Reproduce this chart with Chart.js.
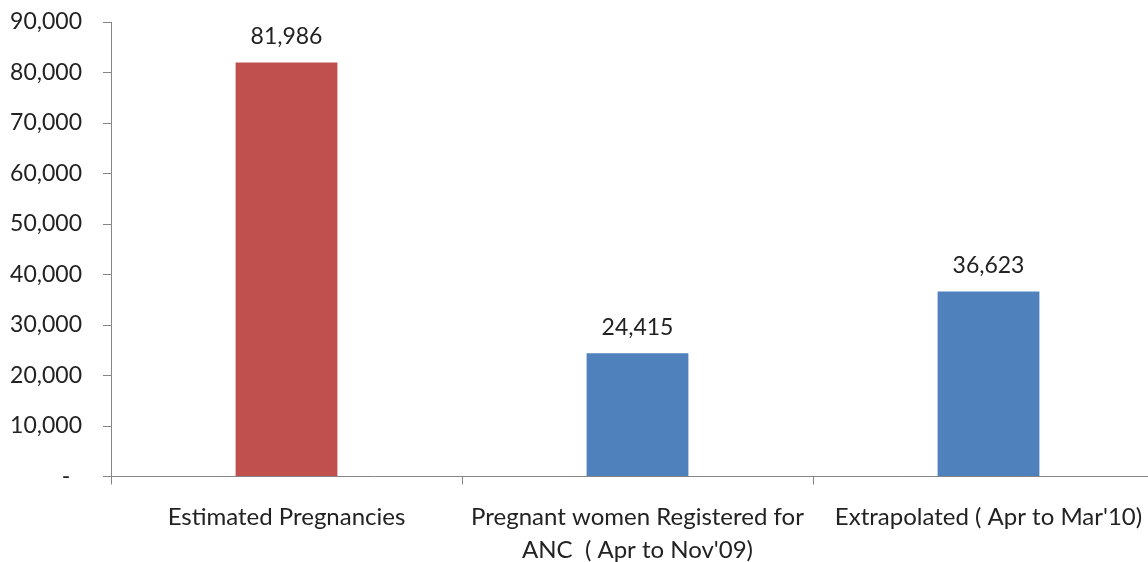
<!DOCTYPE html>
<html>
<head>
<meta charset="utf-8">
<script src="https://cdn.jsdelivr.net/npm/chart.js@4"></script>
<style>
html,body{margin:0;padding:0;background:#fff;overflow:hidden;}
#wrap{width:1170px;height:562px;position:relative;}
</style>
</head>
<body>
<div id="wrap"><canvas id="c"></canvas></div>
<script>
const categories = [
  ["Estimated Pregnancies"],
  ["Pregnant women Registered for", "ANC  ( Apr to Nov'09)"],
  ["Extrapolated ( Apr to Mar'10)"]
];
const values = [81986, 24415, 36623];
const barColors = ["#C0504D", "#4F81BD", "#4F81BD"];
const yTicks = [0, 10000, 20000, 30000, 40000, 50000, 60000, 70000, 80000, 90000];

const FONT = "Lato, 'Open Sans', sans-serif";
const fmt = v => v.toLocaleString('en-US');

const valueLabels = {
  id: 'valueLabels',
  afterDatasetsDraw(chart) {
    const ctx = chart.ctx;
    const meta = chart.getDatasetMeta(0);
    ctx.save();
    ctx.font = "23px " + FONT;
    ctx.fillStyle = "#222";
    ctx.textAlign = "center";
    ctx.textBaseline = "middle";
    meta.data.forEach((bar, i) => {
      ctx.fillText(fmt(values[i]), bar.x, bar.y - 26);
    });
    ctx.restore();
  }
};

new Chart(document.getElementById('c'), {
  type: 'bar',
  data: {
    labels: categories,
    datasets: [{
      data: values,
      backgroundColor: barColors,
      borderWidth: 0,
      categoryPercentage: 1,
      barPercentage: 0.29
    }]
  },
  options: {
    responsive: true,
    maintainAspectRatio: false,
    animation: false,
    layout: { padding: { top: 22, right: 6, left: 0, bottom: 0 } },
    plugins: { legend: { display: false }, tooltip: { enabled: false } },
    scales: {
      x: {
        grid: { offset: true, drawOnChartArea: false, drawTicks: true, tickLength: 8, color: '#868686', lineWidth: 1 },
        border: { display: true, color: '#868686', width: 1 },
        ticks: {
          autoSkip: false, maxRotation: 0, minRotation: 0,
          padding: 17,
          color: '#222',
          font: { family: FONT, size: 24, lineHeight: 1.35 }
        },
        afterFit(scale) { scale.height = 85.5; scale.paddingLeft = 0; scale.paddingRight = 0; }
      },
      y: {
        min: 0, max: 90000,
        afterBuildTicks(scale) { scale.ticks = yTicks.map(v => ({ value: v })); },
        grid: { drawOnChartArea: false, drawTicks: true, tickLength: 8, color: '#868686', lineWidth: 1 },
        border: { display: true, color: '#868686', width: 1 },
        ticks: {
          padding: 21,
          color: '#222',
          font: { family: FONT, size: 23 },
          callback: v => v === 0 ? '-  ' : fmt(v)
        },
        afterFit(scale) { scale.width = 111; scale.paddingTop = 0; scale.paddingBottom = 0; }
      }
    }
  },
  plugins: [valueLabels]
});
</script>
</body>
</html>
